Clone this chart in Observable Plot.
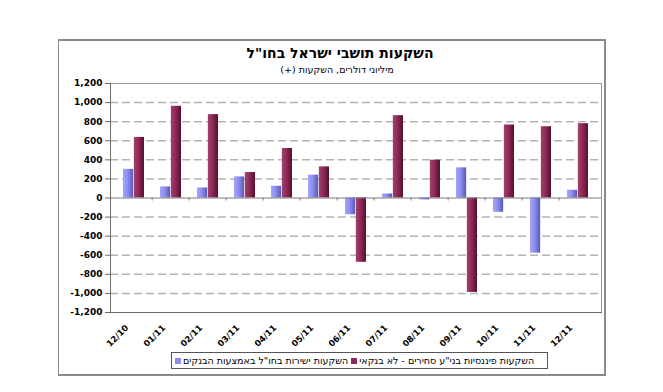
<!DOCTYPE html>
<html><head><meta charset="utf-8">
<script src="https://cdn.jsdelivr.net/npm/d3@7"></script>
<script src="https://cdn.jsdelivr.net/npm/@observablehq/plot@0.6"></script>
<style>
html,body{margin:0;padding:0;background:#fff;overflow:hidden;width:663px;height:392px}
#wrap{position:relative;width:663px;height:392px;font-family:"DejaVu Sans",sans-serif}
#wrap svg{position:absolute;left:0;top:0}
#frame{position:absolute;left:58px;top:39px;width:545px;height:333px;border:2px solid #8a8a8a;border-left-width:1.5px}
#title{position:absolute;left:190px;width:300px;top:45px;text-align:center;font-weight:bold;font-size:14px;color:#000;direction:rtl}
#subtitle{position:absolute;left:187px;width:300px;top:64px;text-align:center;font-size:9.5px;color:#000;direction:rtl}
#legend{position:absolute;left:171px;top:352px;width:375px;height:15px;border:1px solid #555;background:#fff;display:flex;align-items:center;direction:ltr;font-size:9.5px;color:#000}
#legend .sw{width:6px;height:6px;margin:0 2px 0 3px;flex:none}
#legend .tx{direction:rtl;white-space:nowrap}
</style></head><body><div id="wrap"><div id="frame"></div></div>
<script>
const titleText = "השקעות תושבי ישראל בחו\"ל";
const subtitleText = "מיליוני דולרים, השקעות (+)";
const months = ["12/10","01/11","02/11","03/11","04/11","05/11","06/11","07/11","08/11","09/11","10/11","11/11","12/11"];
const seriesNames = ["השקעות ישירות בחו\"ל באמצעות הבנקים", "השקעות פיננסיות בני\"ע סחירים - לא בנקאי"];
const bankValues = [300, 116, 105, 221, 123, 239, -175, 42, -20, 316, -150, -578, 81];
const nonBankValues = [635, 961, 874, 267, 519, 326, -674, 863, 396, -990, 765, 747, 779];
const yTicks = [-1200, -1000, -800, -600, -400, -200, 0, 200, 400, 600, 800, 1000, 1200];
const seriesColors = ["url(#gBlue)", "url(#gMaroon)"];

const W = 663, H = 392, mL = 110, mR = 62, mT = 83, mB = 80;
const step = (W - mL - mR) / months.length;
const padIn = 0.426;
const half = step * (1 - padIn) / 2;

const rows = months.map((m, i) => ({month: m, bank: bankValues[i], nonBank: nonBankValues[i]}));

const defs = () => {
  const g = d3.create("svg:defs");
  const add = (id, stops) => {
    const lg = g.append("linearGradient").attr("id", id).attr("x1", 0).attr("x2", 1).attr("y1", 0).attr("y2", 0);
    stops.forEach(([o, c]) => lg.append("stop").attr("offset", o).attr("stop-color", c));
  };
  add("gBlue", [[0, "#a4a4ff"], [0.45, "#8e8ef2"], [1, "#5858b4"]]);
  add("gMaroon", [[0, "#a4406f"], [0.45, "#8e2a58"], [1, "#56102f"]]);
  return g.node();
};

const fmt = d => (d < 0 ? "-" : "") + d3.format(",")(Math.abs(d));

const chart = Plot.plot({
  width: W, height: H,
  marginLeft: mL, marginRight: mR, marginTop: mT, marginBottom: mB,
  style: {fontFamily: "DejaVu Sans, sans-serif", fontSize: "9px", color: "#000", background: "transparent"},
  x: {type: "band", domain: months, paddingInner: padIn, paddingOuter: padIn / 2},
  y: {domain: [-1200, 1200]},
  marks: [
    defs,
    Plot.ruleY(yTicks.filter(t => t !== 0 && Math.abs(t) !== 1200), {stroke: "#b4b4b4", strokeWidth: 1.5, strokeDasharray: "8,4"}),
    Plot.barY(rows, {x: "month", y: "bank", fill: seriesColors[0], insetLeft: 0, insetRight: half}),
    Plot.barY(rows, {x: "month", y: "nonBank", fill: seriesColors[1], insetLeft: half, insetRight: 0}),
    Plot.ruleY([0], {stroke: "#7a7a7a", strokeWidth: 1}),
    Plot.ruleX(months.slice(1), {x: d => d, y1: 0, y2: 0, insetBottom: -3, dx: -step / 2, stroke: "#7a7a7a"}),
    Plot.frame({stroke: "#999"}),
    Plot.frame({anchor: "left", stroke: "#6a6a6a"}),
    Plot.frame({anchor: "bottom", stroke: "#6a6a6a"}),
    Plot.axisY(yTicks, {tickFormat: fmt, tickSize: 5, tickPadding: 3, stroke: "#6a6a6a", fill: "#000", fontWeight: "bold", fontSize: 9, label: null}),
    Plot.axisX({tickRotate: -45, tickSize: 0, tickPadding: 14, dx: -7, fill: "#000", fontWeight: 600, fontSize: 8.5, label: null})
  ]
});

const wrap = document.getElementById("wrap");
wrap.insertBefore(chart, wrap.firstChild);

const t = document.createElement("div"); t.id = "title"; t.textContent = titleText; wrap.appendChild(t);
const s = document.createElement("div"); s.id = "subtitle"; s.textContent = subtitleText; wrap.appendChild(s);

const lg = document.createElement("div"); lg.id = "legend";
const legendColors = ["#8c8cf0", "#8e2a58"];
seriesNames.forEach((name, i) => {
  const sw = document.createElement("span"); sw.className = "sw"; sw.style.background = legendColors[i];
  const tx = document.createElement("span"); tx.className = "tx"; tx.textContent = name;
  lg.appendChild(sw); lg.appendChild(tx);
});
wrap.appendChild(lg);
</script></body></html>
